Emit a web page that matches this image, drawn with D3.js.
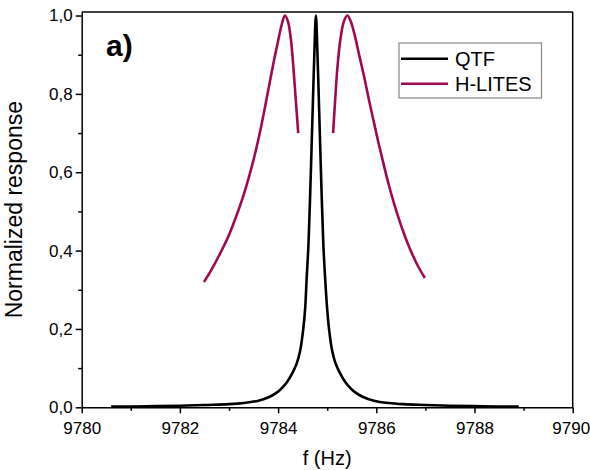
<!DOCTYPE html>
<html>
<head>
<meta charset="utf-8">
<script src="https://cdn.jsdelivr.net/npm/d3@7"></script>
<style>
	body { margin: 0; background: #fff; }
	svg { display: block; font-family: "Liberation Sans", Arial, sans-serif; }
	.axis path, .axis line { stroke: #000; stroke-width: 1.5; }
	.axis text { font-size: 17px; fill: #000; }
</style>
</head>
<body>
<div id="chart"></div>
<script>

// QTF response (frequency in Hz, normalized amplitude)
var qtfFreq = [9780.6, 9781.0, 9781.5, 9782.0, 9782.5, 9783.0, 9783.3, 9783.6, 9783.83, 9784.0, 9784.1, 9784.2,
	9784.3, 9784.38, 9784.45, 9784.51, 9784.55, 9784.58, 9784.62, 9784.65, 9784.68, 9784.71, 9784.74, 9784.77,
	9784.80, 9784.83, 9784.86, 9784.89, 9784.92, 9784.96, 9785.0, 9785.04, 9785.1, 9785.17, 9785.25, 9785.35,
	9785.45, 9785.55, 9785.72, 9785.95, 9786.25, 9786.55, 9787.0, 9787.5, 9788.0, 9788.5, 9788.9];
var qtfResp = [0.002, 0.002, 0.003, 0.004, 0.006, 0.008, 0.011, 0.017, 0.027, 0.040, 0.052, 0.068,
	0.090, 0.112, 0.145, 0.197, 0.25, 0.325, 0.42, 0.53, 0.656, 0.784, 0.91, 1.0,
	0.91, 0.784, 0.656, 0.53, 0.42, 0.325, 0.25, 0.197, 0.145, 0.112, 0.09, 0.068,
	0.052, 0.040, 0.027, 0.017, 0.011, 0.008, 0.006, 0.004, 0.003, 0.002, 0.002];

// H-LITES response, two branches (below and above the QTF peak)
var hlitesLowFreq = [9782.49, 9782.6, 9782.7, 9782.8, 9782.9, 9783.0, 9783.1, 9783.2, 9783.3, 9783.4, 9783.5,
	9783.6, 9783.7, 9783.8, 9783.9, 9784.0, 9784.07, 9784.14, 9784.2, 9784.26, 9784.31, 9784.36, 9784.41];
var hlitesLowResp = [0.32, 0.342, 0.364, 0.388, 0.413, 0.44, 0.472, 0.506, 0.543, 0.585, 0.632,
	0.685, 0.745, 0.81, 0.875, 0.935, 0.975, 1.00, 0.985, 0.94, 0.87, 0.785, 0.70];
var hlitesHighFreq = [9785.12, 9785.16, 9785.21, 9785.27, 9785.34, 9785.41, 9785.48, 9785.55, 9785.65, 9785.75,
	9785.85, 9785.95, 9786.05, 9786.15, 9786.25, 9786.35, 9786.45, 9786.55, 9786.65, 9786.75, 9786.85, 9786.99];
var hlitesHighResp = [0.70, 0.78, 0.87, 0.94, 0.985, 1.00, 0.985, 0.955, 0.90, 0.845,
	0.785, 0.728, 0.672, 0.62, 0.57, 0.525, 0.485, 0.448, 0.415, 0.386, 0.36, 0.33];

var xTicks = [9780, 9782, 9784, 9786, 9788, 9790];
var yTicks = [0, 0.2, 0.4, 0.6, 0.8, 1.0];
var seriesNames = ["QTF", "H-LITES"];
var seriesColors = ["#000000", "#a0094f"];

var width = 590, height = 470;
var margin = {top: 12, right: 17.3, bottom: 62.7, left: 81.7};
var w = width - margin.left - margin.right;
var h = height - margin.top - margin.bottom;

var svg = d3.select("#chart").append("svg")
	.attr("width", width)
	.attr("height", height);

var g = svg.append("g").attr("transform", "translate(" + margin.left + "," + margin.top + ")");

var x = d3.scaleLinear().domain([9780, 9790]).range([0, w]);
var y = d3.scaleLinear().domain([0, 1.009]).range([h, 0]);

function fmt(d) { return d3.format(".1f")(d).replace(".", ","); }

// minor ticks first
g.append("g").attr("class", "axis")
	.attr("transform", "translate(0," + h + ")")
	.call(d3.axisBottom(x).tickValues(d3.range(9781, 9790, 2)).tickSize(3.5).tickSizeOuter(0).tickFormat(""))
	.select(".domain").remove();
g.append("g").attr("class", "axis")
	.call(d3.axisLeft(y).tickValues([0.1, 0.3, 0.5, 0.7, 0.9]).tickSize(3.5).tickSizeOuter(0).tickFormat(""))
	.select(".domain").remove();

// major ticks
var xAxis = g.append("g").attr("class", "axis")
	.attr("transform", "translate(0," + h + ")")
	.call(d3.axisBottom(x).tickValues(xTicks).tickSize(6).tickPadding(8.5).tickSizeOuter(0).tickFormat(d3.format("d")));
// keep the last label inside the window
xAxis.selectAll(".tick text").filter(function(d) { return d === 9790; }).attr("dx", "-2");

g.append("g").attr("class", "axis")
	.call(d3.axisLeft(y).tickValues(yTicks).tickSize(6).tickPadding(3).tickSizeOuter(0).tickFormat(fmt));

// top and right frame
g.append("line").attr("x1", 0).attr("x2", w).attr("y1", 0).attr("y2", 0)
	.attr("stroke", "#000").attr("stroke-width", 1.5);
g.append("line").attr("x1", w).attr("x2", w).attr("y1", 0).attr("y2", h)
	.attr("stroke", "#000").attr("stroke-width", 1.5);

var line = d3.line()
	.x(function(d) { return x(d[0]); })
	.y(function(d) { return y(d[1]); })
	.curve(d3.curveCatmullRom.alpha(0.5));

var series = [
	{color: seriesColors[1], pts: d3.zip(hlitesLowFreq, hlitesLowResp)},
	{color: seriesColors[1], pts: d3.zip(hlitesHighFreq, hlitesHighResp)},
	{color: seriesColors[0], pts: d3.zip(qtfFreq, qtfResp)}
];

g.selectAll(".curve")
	.data(series)
	.enter()
	.append("path")
	.attr("class", "curve")
	.attr("fill", "none")
	.attr("stroke", function(d) { return d.color; })
	.attr("stroke-width", 2.6)
	.attr("stroke-linejoin", "round")
	.attr("d", function(d) { return line(d.pts); });

// panel label
svg.append("text")
	.attr("x", 106).attr("y", 56)
	.attr("font-size", "30px").attr("font-weight", "bold")
	.text("a)");

// legend
var legend = svg.append("g").attr("transform", "translate(399,43)");
legend.append("rect")
	.attr("width", 142.5).attr("height", 55)
	.attr("fill", "#fff").attr("stroke", "#888").attr("stroke-width", 1.2);
var items = legend.selectAll(".item")
	.data(seriesNames)
	.enter()
	.append("g")
	.attr("transform", function(d, i) { return "translate(0," + (15.7 + i * 25) + ")"; });
items.append("line")
	.attr("x1", 2).attr("x2", 49)
	.attr("stroke", function(d, i) { return seriesColors[i]; })
	.attr("stroke-width", 2.6);
items.append("text")
	.attr("x", 56).attr("dy", "0.36em")
	.attr("font-size", "20px")
	.text(function(d) { return d; });

// axis titles
svg.append("text")
	.attr("x", margin.left + w / 2).attr("y", 465)
	.attr("text-anchor", "middle")
	.attr("font-size", "20px")
	.text("f (Hz)");
svg.append("text")
	.attr("transform", "translate(22," + (margin.top + h / 2) + ") rotate(-90)")
	.attr("text-anchor", "middle")
	.attr("font-size", "23px")
	.text("Normalized response");

</script>
</body>
</html>
